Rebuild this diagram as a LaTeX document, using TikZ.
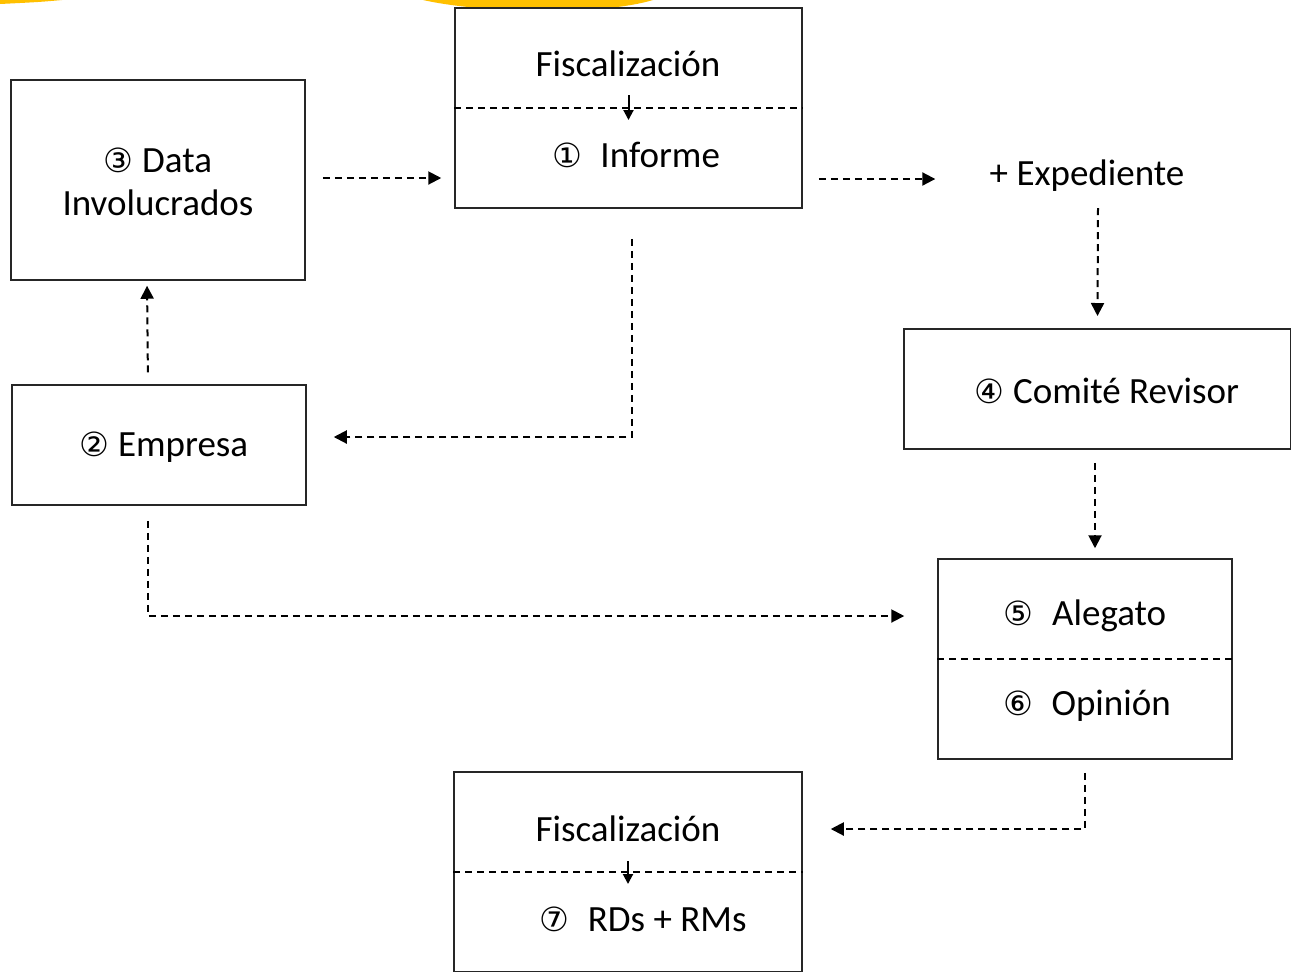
\documentclass[tikz,border=0pt]{standalone}
\usepackage{fontspec}
\setmainfont{Carlito}
\newfontfamily\circfont[Scale=0.9]{DejaVu Sans}
\usetikzlibrary{arrows.meta,calc}
\newcommand\cnum[1]{{\circfont #1}}
\definecolor{orng}{HTML}{FFC000}
\begin{document}
\begin{tikzpicture}[x=0.5pt,y=-0.5pt,
  box/.style={draw=black!85, line width=0.75pt, inner sep=0pt, fill=white},
  lbl/.style={font=\fontsize{18.5}{21.5}\selectfont, inner sep=1pt, align=center},
  conn/.style={line width=1pt, dash pattern=on 3.5pt off 2.5pt, -{Triangle[length=6.5pt,width=6.5pt]}},
  inarrow/.style={line width=1pt, -{Triangle[length=5pt,width=5pt]}},
  divider/.style={line width=0.75pt, dash pattern=on 3.5pt off 2.5pt}]
\useasboundingbox (0,0) rectangle (1291,971);
% orange shapes at top
\fill[orng] (423,0) .. controls (480,13) and (600,16) .. (653,0) -- cycle;
\fill[orng] (0,0) -- (62,0) .. controls (40,2) .. (0,4) -- cycle;
% boxes
\node[box, minimum width=147pt, minimum height=100pt] (data) at (158,180) {};
\node[box, minimum width=173.5pt, minimum height=100pt] (inf) at (628.5,108) {};
\node[box, minimum width=193.5pt, minimum height=60pt] (com) at (1097.5,389) {};
\node[box, minimum width=147pt, minimum height=60pt] (emp) at (159,445) {};
\node[box, minimum width=147pt, minimum height=100pt] (ale) at (1085,659) {};
\node[box, minimum width=174pt, minimum height=100pt] (fin) at (628,872) {};
% dividers
\draw[divider] (inf.west) -- (inf.east);
\draw[divider] (ale.west) -- (ale.east);
\draw[divider, line width=1.25pt] (fin.west) -- (fin.east);
% labels
\node[lbl] (datat) at (158,182) {\cnum{③} Data\\Involucrados};
\node[lbl] (fisc1) at (628,64) {Fiscalización};
\node[lbl] (inft) at (636,155) {\cnum{①}\enspace Informe};
\node[lbl] (exp) at (1087,176) {+ Expediente};
\node[lbl] (comt) at (1107,391) {\cnum{④} Comité Revisor};
\node[lbl] (empt) at (164,447) {\cnum{②} Empresa};
\node[lbl] (alet) at (1085,616) {\cnum{⑤}\enspace Alegato};
\node[lbl] (opit) at (1087,706) {\cnum{⑥}\enspace Opinión};
\node[lbl] (fisc2) at (628,829) {Fiscalización};
\node[lbl] (rdt) at (643,919) {\cnum{⑦}\enspace RDs + RMs};
% inner arrows
\draw[inarrow] ([yshift=6.5pt]inf.center) -- ([yshift=-6pt]inf.center);
\draw[inarrow] ([yshift=5.5pt]fin.center) -- ([yshift=-6pt]fin.center);
% connectors
\draw[conn, shorten <=8.5pt, shorten >=6.5pt] (data.east |- 0,178) -- (inf.west |- 0,178);
\draw[conn, shorten <=8pt] (inf.east |- 0,179) -- ([xshift=-26pt]exp.west |- 0,179);
\draw[conn] ([xshift=5.5pt]exp.south |- 0,208) -- ([yshift=6.5pt]com.north |- 1098,329);
\draw[conn, shorten <=15pt, shorten >=13.5pt] ([xshift=1.75pt]inf.south) |- ([yshift=4pt]emp.east);
\draw[conn, shorten <=6pt, shorten >=2.5pt] ([xshift=-5.5pt]emp.north) -- ([xshift=-5.5pt]data.south);
\draw[conn, shorten <=7.5pt, shorten >=16.5pt] ([xshift=-5.5pt]emp.south) |- (ale.west |- alet);
\draw[conn, shorten <=6.5pt, shorten >=5pt] ([xshift=5pt]ale.north |- com.south) -- ([xshift=5pt]ale.north);
\draw[conn, shorten <=6.5pt, shorten >=14pt] (ale.south) |- (fin.east |- fisc2);
\end{tikzpicture}
\end{document}
